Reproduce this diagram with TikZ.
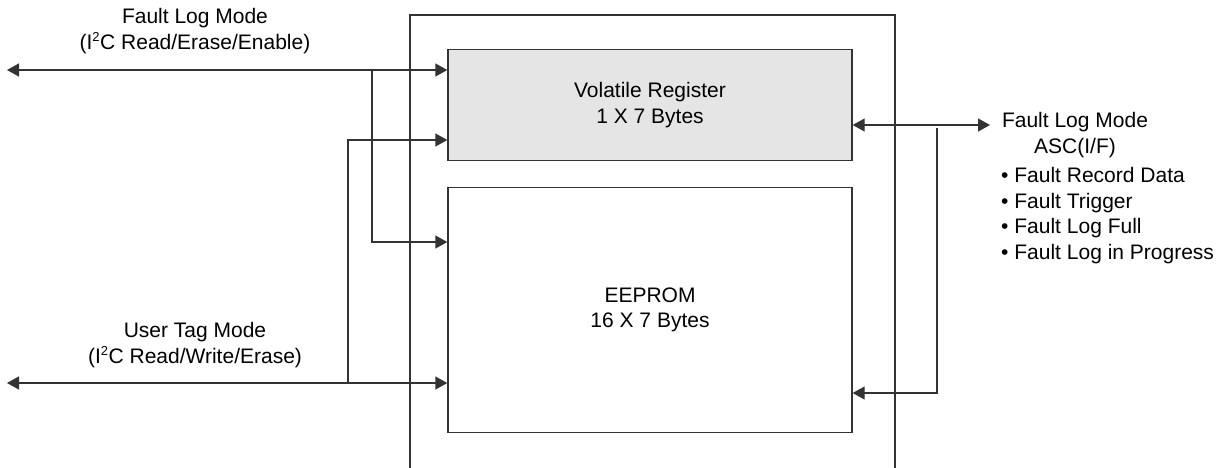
\documentclass[tikz,border=0pt]{standalone}
\usepackage{fontspec}
\setmainfont{Liberation Sans}
\usetikzlibrary{arrows.meta}
\begin{document}
\begin{tikzpicture}[x=1pt,y=-1pt,
  line/.style={draw=black!80, line width=1.4pt},
  tip/.style={-{Triangle[length=12pt,width=13pt]}},
  bitip/.style={{Triangle[length=12pt,width=13pt]}-{Triangle[length=12pt,width=13pt]}},
  lbl/.style={font=\fontsize{21}{25.5}\selectfont, align=center, inner sep=0pt},
  regbox/.style={line, minimum width=404pt, inner sep=0pt, font=\fontsize{21}{25.5}\selectfont, align=center}]
\useasboundingbox (0,0) rectangle (1226,467);
% outer frame
\draw[line] (410,470) -- (410,15) -- (895,15) -- (895,470);
% memory blocks
\node[regbox, fill=black!10, minimum height=111pt] (vol) at (650,105) {Volatile Register\\1 X 7 Bytes};
\node[regbox, fill=white, minimum height=245pt] (ee) at (650,310) {EEPROM\\16 X 7 Bytes};
% coordinates
\coordinate (flL) at (7,70);
\coordinate (flJ) at (372,70);
\coordinate (e1) at (0,242);
\coordinate (utL) at (7,383);
\coordinate (utJ) at (348,383);
\coordinate (v2) at (0,140);
\coordinate (rA) at (990,125);
\coordinate (rTop) at (937,128);
\coordinate (rBot) at (937,393);
% left connectors
\draw[line, bitip] (flL) -- (flL -| vol.west);
\draw[line, tip] (flJ) |- (ee.west |- e1);
\draw[line, bitip] (utL) -- (utL -| ee.west);
\draw[line, tip] (utJ) |- (vol.west |- v2);
% right connectors
\draw[line, bitip] (vol.east |- rA) -- (rA);
\draw[line, tip] (rTop) -- (rBot) -- (rBot -| ee.east);
% labels
\node[lbl] (flt) at (195,31) {Fault Log Mode\\(I\textsuperscript{\fontsize{13}{13}\selectfont 2}C Read/Erase/Enable)};
\node[lbl] (utt) at (195,345) {User Tag Mode\\(I\textsuperscript{\fontsize{13}{13}\selectfont 2}C Read/Write/Erase)};
\node[lbl] (frt) at (1075,135) {Fault Log Mode\\ASC(I/F)};
\node[lbl, align=left, anchor=west] (bul) at (1001,215.5) {• Fault Record Data\\• Fault Trigger\\• Fault Log Full\\• Fault Log in Progress};
\end{tikzpicture}
\end{document}
